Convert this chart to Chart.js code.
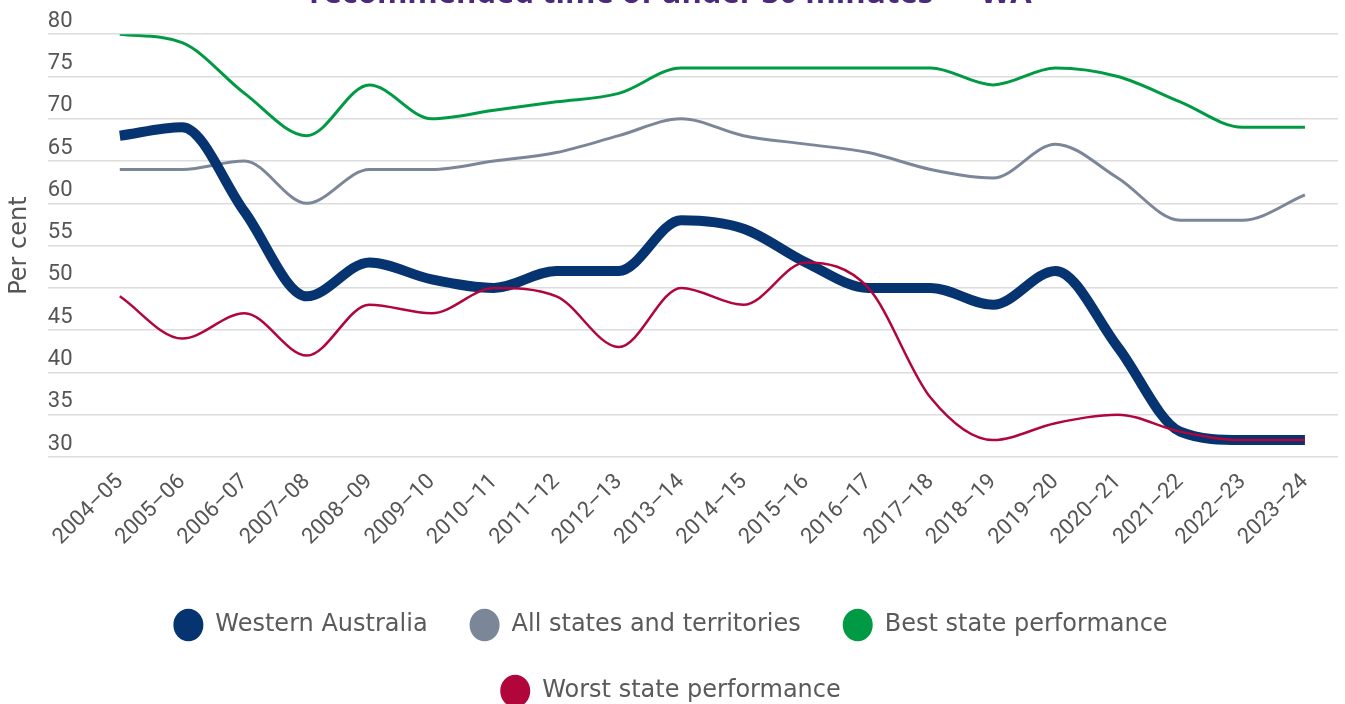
<!DOCTYPE html>
<html>
<head>
<meta charset="utf-8">
<script src="https://cdn.jsdelivr.net/npm/chart.js@4"></script>
<style>
  html, body { margin: 0; padding: 0; background: #ffffff; overflow: hidden; }
  #wrap { position: absolute; left: 0; top: -24px; width: 1345px; height: 737px; }
</style>
</head>
<body>
<div id="wrap"><canvas id="c"></canvas></div>
<script>
const titleText = 'recommended time of under 30 minutes — WA';
const categories = ['2004–05','2005–06','2006–07','2007–08','2008–09','2009–10','2010–11','2011–12','2012–13','2013–14','2014–15','2015–16','2016–17','2017–18','2018–19','2019–20','2020–21','2021–22','2022–23','2023–24'];
const seriesNames = ['Western Australia','All states and territories','Best state performance','Worst state performance'];
const waValues    = [68, 69, 59, 49, 53, 51, 50, 52, 52, 58, 57, 53, 50, 50, 48, 52, 43, 33, 32, 32];
const allValues   = [64, 64, 65, 60, 64, 64, 65, 66, 68, 70, 68, 67, 66, 64, 63, 67, 63, 58, 58, 61];
const bestValues  = [80, 79, 73, 68, 74, 70, 71, 72, 73, 76, 76, 76, 76, 76, 74, 76, 75, 72, 69, 69];
const worstValues = [49, 44, 47, 42, 48, 47, 50, 49, 43, 50, 48, 53, 50, 37, 32, 34, 35, 33, 32, 32];
const yTicks = [30, 35, 40, 45, 50, 55, 60, 65, 70, 75, 80];

const toXY = arr => arr.map((v, i) => ({ x: i, y: v }));
const grey = '#555555';

new Chart(document.getElementById('c'), {
  type: 'line',
  data: {
    datasets: [
      { label: seriesNames[0], data: toXY(waValues),    borderColor: '#053470', backgroundColor: '#053470', borderWidth: 10, pointBorderWidth: 0, order: 1 },
      { label: seriesNames[1], data: toXY(allValues),   borderColor: '#7b8798', backgroundColor: '#7b8798', borderWidth: 3, pointBorderWidth: 0, order: 3 },
      { label: seriesNames[2], data: toXY(bestValues),  borderColor: '#009a44', backgroundColor: '#009a44', borderWidth: 3, pointBorderWidth: 0, order: 2 },
      { label: seriesNames[3], data: toXY(worstValues), borderColor: '#b0063c', backgroundColor: '#b0063c', borderWidth: 2.5, pointBorderWidth: 0, order: 0 }
    ]
  },
  options: {
    responsive: true,
    maintainAspectRatio: false,
    animation: false,
    layout: { padding: { left: 3, right: 7, top: 0, bottom: 0 } },
    elements: {
      point: { radius: 0, hoverRadius: 0 },
      line: { cubicInterpolationMode: 'monotone', borderCapStyle: 'butt', borderJoinStyle: 'round' }
    },
    plugins: {
      title: {
        display: true,
        text: titleText,
        color: '#4b2a7d',
        font: { family: 'Open Sans', size: 31, weight: 'bold' },
        padding: { top: 0, bottom: 21 }
      },
      legend: {
        position: 'bottom',
        labels: {
          usePointStyle: true,
          pointStyle: 'circle',
          pointStyleWidth: 30,
          boxHeight: 23,
          padding: 42,
          color: '#5a5a5a',
          font: { family: 'DejaVu Sans', size: 24 },
          sort: (a, b) => a.datasetIndex - b.datasetIndex
        }
      },
      tooltip: { enabled: false }
    },
    scales: {
      x: {
        type: 'linear',
        min: -1.154,
        max: 19.53,
        grid: { display: false },
        border: { display: false },
        afterBuildTicks: scale => { scale.ticks = categories.map((c, i) => ({ value: i })); },
        afterFit: scale => { scale.height = 114; },
        ticks: {
          autoSkip: false,
          minRotation: 45,
          maxRotation: 45,
          padding: 4,
          color: grey,
          font: { family: 'Roboto', size: 22 },
          callback: v => categories[v]
        }
      },
      y: {
        min: 30,
        max: 80,
        afterBuildTicks: scale => { scale.ticks = yTicks.map(v => ({ value: v })); },
        grid: { color: '#dcdcdc', lineWidth: 1.5, drawTicks: false },
        border: { display: false },
        ticks: {
          mirror: true,
          padding: 0,
          labelOffset: -13,
          color: grey,
          font: { family: 'Roboto', size: 22 }
        },
        title: {
          display: true,
          text: 'Per cent',
          color: grey,
          font: { family: 'DejaVu Sans', size: 24 },
          padding: { top: 2, bottom: 14 }
        }
      }
    }
  }
});
</script>
</body>
</html>
